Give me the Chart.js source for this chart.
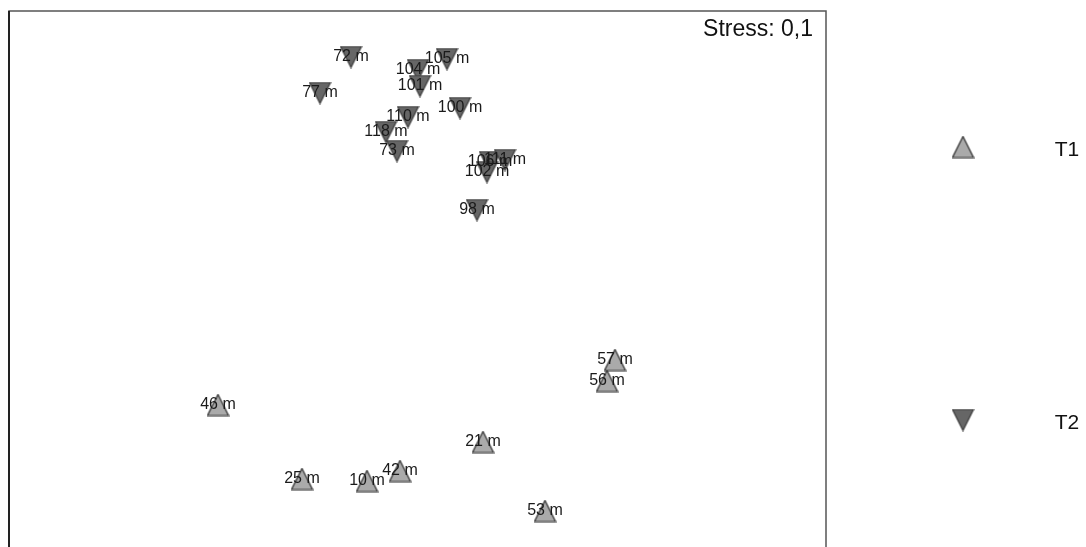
<!DOCTYPE html>
<html>
<head>
<meta charset="utf-8">
<script src="https://cdn.jsdelivr.net/npm/chart.js@4.4.0/dist/chart.umd.min.js"></script>
<style>
  html, body { margin: 0; padding: 0; overflow: hidden; background: #fff; }
  #wrap { width: 1086px; height: 547px; overflow: hidden; }
</style>
</head>
<body>
<div id="wrap"><canvas id="mds" width="1086" height="580"></canvas></div>
<script>
// MDS coordinates
const t1Labels = ['57 m', '56 m', '46 m', '21 m', '42 m', '25 m', '10 m', '53 m'];
const t1X = [1.97, 1.89, -2.00, 0.65, -0.18, -1.16, -0.51, 1.27];
const t1Y = [-0.75, -0.96, -1.20, -1.57, -1.86, -1.94, -1.96, -2.26];

const t2Labels = ['72 m', '105 m', '104 m', '101 m', '77 m', '100 m', '110 m', '118 m', '73 m', '106 m', '111 m', '102 m', '98 m'];
const t2X = [-0.67, 0.29, 0.00, 0.02, -0.98, 0.42, -0.10, -0.32, -0.21, 0.72, 0.87, 0.69, 0.59];
const t2Y = [2.28, 2.26, 2.15, 1.99, 1.92, 1.77, 1.68, 1.53, 1.34, 1.23, 1.25, 1.13, 0.75];

const stressText = 'Stress: 0,1';

function toPoints(xs, ys) {
  return xs.map(function (x, i) { return { x: x, y: ys[i] }; });
}

// triangle marker as a small canvas, used as pointStyle
function triangle(up, fill, stroke) {
  const w = 23, h = 23;
  const c = document.createElement('canvas');
  c.width = w; c.height = h;
  const g = c.getContext('2d');
  g.beginPath();
  if (up) {
    g.moveTo(w / 2, 1); g.lineTo(w - 1, h - 1); g.lineTo(1, h - 1);
  } else {
    g.moveTo(1, 1); g.lineTo(w - 1, 1); g.lineTo(w / 2, h - 1);
  }
  g.closePath();
  g.fillStyle = fill;
  g.fill();
  g.strokeStyle = stroke;
  g.lineWidth = 1.2;
  g.stroke();
  return c;
}

const upMark = triangle(true, '#aaaaaa', '#2e2e2e');
const downMark = triangle(false, '#666666', '#3a3a3a');

const FONT = 'Arial, "Liberation Sans", sans-serif';

// frame, point labels, stress value and the legend on the right
const decorations = {
  id: 'decorations',
  afterDatasetsDraw: function (chart) {
    const ctx = chart.ctx;
    const a = chart.chartArea;
    ctx.save();

    ctx.strokeStyle = '#555';
    ctx.lineWidth = 1.5;
    ctx.strokeRect(a.left, a.top, a.right - a.left, a.bottom - a.top);
    ctx.strokeStyle = '#222';
    ctx.lineWidth = 2;
    ctx.beginPath();
    ctx.moveTo(a.left, a.top);
    ctx.lineTo(a.left, a.bottom);
    ctx.stroke();

    ctx.fillStyle = '#1a1a1a';
    ctx.font = '16px ' + FONT;
    ctx.textAlign = 'center';
    ctx.textBaseline = 'middle';
    chart.data.datasets.forEach(function (ds, di) {
      const meta = chart.getDatasetMeta(di);
      meta.data.forEach(function (el, i) {
        ctx.fillText(ds.pointLabels[i], el.x, el.y);
      });
    });

    ctx.fillStyle = '#111';
    ctx.font = '23px ' + FONT;
    ctx.textAlign = 'right';
    ctx.fillText(stressText, a.right - 13, 30);

    // legend
    const items = [
      { ds: chart.data.datasets[0], y: 147, ty: 150 },
      { ds: chart.data.datasets[1], y: 420, ty: 423 }
    ];
    items.forEach(function (it) {
      const img = it.ds.pointStyle;
      ctx.drawImage(img, 963 - img.width / 2, it.y - img.height / 2);
      ctx.fillStyle = '#111';
      ctx.font = '21px ' + FONT;
      ctx.textAlign = 'center';
      ctx.fillText(it.ds.label, 1067, it.ty);
    });

    ctx.restore();
  }
};

new Chart(document.getElementById('mds').getContext('2d'), {
  type: 'scatter',
  data: {
    datasets: [{
      label: 'T1',
      data: toPoints(t1X, t1Y),
      pointLabels: t1Labels,
      pointStyle: upMark
    }, {
      label: 'T2',
      data: toPoints(t2X, t2Y),
      pointLabels: t2Labels,
      pointStyle: downMark
    }]
  },
  options: {
    responsive: false,
    animation: false,
    layout: { autoPadding: false, padding: { left: 9, top: 11, right: 260, bottom: 10 } },
    plugins: {
      legend: { display: false },
      tooltip: { enabled: false }
    },
    scales: {
      x: { display: false, min: -4.09, max: 4.08 },
      y: { display: false, min: -2.85, max: 2.74 }
    }
  },
  plugins: [decorations]
});
</script>
</body>
</html>
